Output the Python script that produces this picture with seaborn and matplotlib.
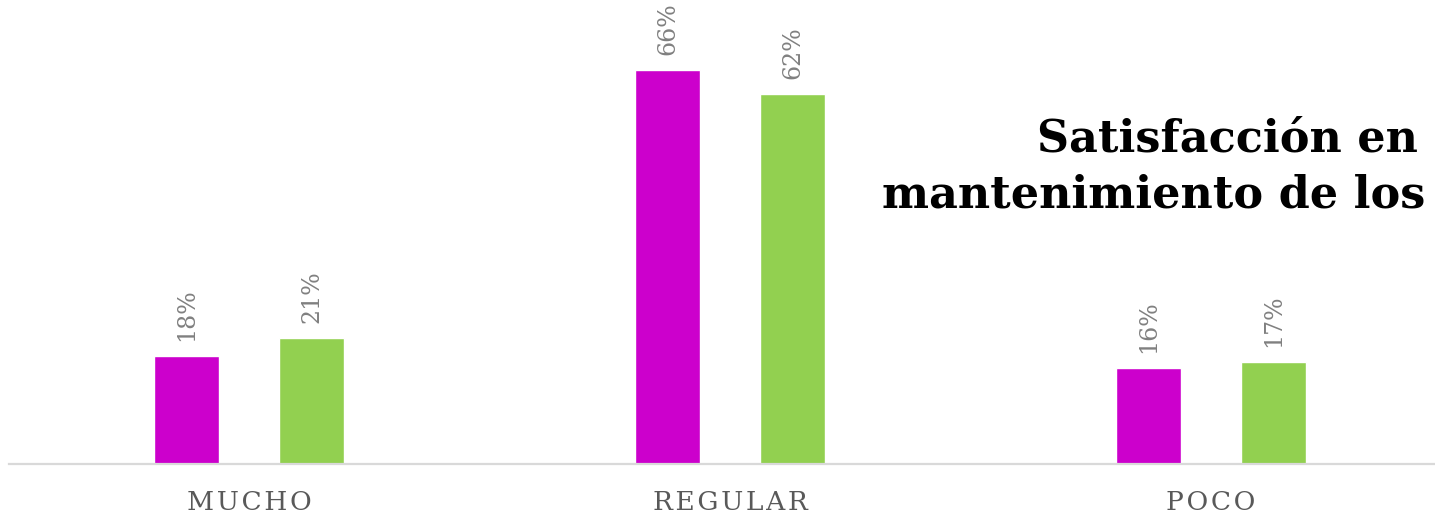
import matplotlib
matplotlib.use("Agg")
import matplotlib.pyplot as plt
import pandas as pd
import seaborn as sns

# datos
categorias = ["MUCHO", "REGULAR", "POCO"]
serie_1 = [18, 66, 16]
serie_2 = [21, 62, 17]
series = ["Serie 1", "Serie 2"]
colores = ["#CC00CC", "#92D050"]

df = pd.DataFrame({
    "categoria": categorias * 2,
    "serie": [series[0]] * 3 + [series[1]] * 3,
    "valor": serie_1 + serie_2,
})

sns.set_theme(style="white")
plt.rcParams["font.family"] = ["DejaVu Serif", "DejaVu Sans"]

W, H = 1435, 515
fig = plt.figure(figsize=(W / 100, H / 100), dpi=100)
base_y = 463.5
ax = fig.add_axes([8.5 / W, (H - base_y) / H, 1443 / W, base_y / H])

sns.barplot(data=df, x="categoria", y="valor", hue="serie", order=categorias,
            hue_order=series, palette=colores, width=0.52, gap=0.48,
            saturation=1, legend=False, ax=ax)

for cont in ax.containers:
    ax.bar_label(cont, fmt="{:.0f}%", rotation=90, padding=11,
                 color="#808080", fontsize=17)

ax.set_xlim(-0.5, 2.5)
ax.set_ylim(0, base_y / 5.955)
ax.set_xlabel("")
ax.set_ylabel("")
ax.set_yticks([])
ax.set_xticks(range(len(categorias)))
ax.set_xticklabels(["\u200a".join(c) for c in categorias], color="#595959", fontsize=19)
ax.tick_params(axis="x", length=0, pad=19)
for s in ["top", "left", "right"]:
    ax.spines[s].set_visible(False)
ax.spines["bottom"].set_color("#D9D9D9")
ax.spines["bottom"].set_linewidth(1.6)

# titulo, alineado al borde derecho
fig.text(1418 / W, 1 - 152 / H, "Satisfacción en", ha="right", va="baseline",
         fontsize=32, fontweight="bold", color="black")
fig.text(882 / W, 1 - 208 / H, "mantenimiento de los", ha="left",
         va="baseline", fontsize=32, fontweight="bold", color="black")

fig.savefig("out.png", dpi=100)
